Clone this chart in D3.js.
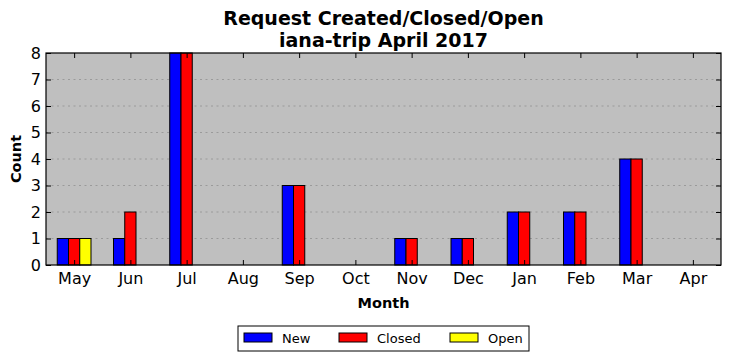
<!DOCTYPE html>
<html>
<head>
<meta charset="utf-8">
<script src="https://cdn.jsdelivr.net/npm/d3@7"></script>
<style>
  body { margin: 0; background: #fff; }
  text { font-family: "DejaVu Sans", sans-serif; }
</style>
</head>
<body>
<svg id="chart" width="731" height="361"></svg>
<script>
const months = ["May", "Jun", "Jul", "Aug", "Sep", "Oct", "Nov", "Dec", "Jan", "Feb", "Mar", "Apr"];
const newCounts = [1, 1, 8, 0, 3, 0, 1, 1, 2, 2, 4, 0];
const closedCounts = [1, 2, 8, 0, 3, 0, 1, 1, 2, 2, 4, 0];
const openCounts = [1, 0, 0, 0, 0, 0, 0, 0, 0, 0, 0, 0];
const yTicks = [0, 1, 2, 3, 4, 5, 6, 7, 8];

const series = [
  { name: "New", values: newCounts, color: "#0000ff" },
  { name: "Closed", values: closedCounts, color: "#ff0000" },
  { name: "Open", values: openCounts, color: "#ffff00" }
];

const svg = d3.select("#chart");
const plotL = 46, plotR = 721, plotT = 53, plotB = 265;
const barW = 0.2;

const x = d3.scaleLinear().domain([-0.5, months.length - 0.5]).range([plotL, plotR]);
const y = d3.scaleLinear().domain([0, 8]).range([plotB, plotT]);

// plot background
svg.append("rect")
  .attr("x", plotL).attr("y", plotT)
  .attr("width", plotR - plotL).attr("height", plotB - plotT)
  .attr("fill", "#bfbfbf");

// grid
svg.append("g").selectAll("line")
  .data(yTicks.slice(1, -1))
  .enter().append("line")
  .attr("x1", plotL).attr("x2", plotR)
  .attr("y1", d => y(d)).attr("y2", d => y(d))
  .attr("stroke", "#9a9a9a")
  .attr("stroke-width", 1)
  .attr("stroke-dasharray", "2,3.5");

// bars
series.forEach((s, si) => {
  svg.append("g").selectAll("rect")
    .data(s.values)
    .enter().append("rect")
    .attr("x", (d, i) => x(i - 0.3 + si * barW))
    .attr("y", d => y(d))
    .attr("width", x(barW) - x(0))
    .attr("height", d => y(0) - y(d))
    .attr("fill", s.color)
    .attr("stroke", "#000")
    .attr("stroke-width", 1);
});

// axes with inward ticks on all sides
const tickLen = 5;
svg.append("g")
  .attr("transform", `translate(0,${plotB})`)
  .call(d3.axisBottom(x).tickValues(d3.range(months.length)).tickFormat(i => months[i]).tickSizeInner(-tickLen).tickSizeOuter(0).tickPadding(8))
  .call(g => g.select(".domain").remove())
  .call(g => g.selectAll("text").attr("font-size", 16).attr("fill", "#000"));

svg.append("g")
  .attr("transform", `translate(0,${plotT})`)
  .call(d3.axisTop(x).tickValues(d3.range(months.length)).tickFormat("").tickSizeInner(-tickLen).tickSizeOuter(0))
  .call(g => g.select(".domain").remove());

svg.append("g")
  .attr("transform", `translate(${plotL},0)`)
  .call(d3.axisLeft(y).tickValues(yTicks).tickSizeInner(-tickLen).tickSizeOuter(0).tickPadding(5))
  .call(g => g.select(".domain").remove())
  .call(g => g.selectAll("text").attr("font-size", 16).attr("fill", "#000"));

svg.append("g")
  .attr("transform", `translate(${plotR},0)`)
  .call(d3.axisRight(y).tickValues(yTicks).tickFormat("").tickSizeInner(-tickLen).tickSizeOuter(0))
  .call(g => g.select(".domain").remove());

// frame
svg.append("rect")
  .attr("x", plotL).attr("y", plotT)
  .attr("width", plotR - plotL).attr("height", plotB - plotT)
  .attr("fill", "none").attr("stroke", "#000").attr("stroke-width", 1.2);

// titles
const cx = (plotL + plotR) / 2;
svg.append("text").attr("x", cx).attr("y", 25).attr("text-anchor", "middle")
  .attr("font-size", 19).attr("font-weight", "bold").text("Request Created/Closed/Open");
svg.append("text").attr("x", cx).attr("y", 47).attr("text-anchor", "middle")
  .attr("font-size", 19).attr("font-weight", "bold").text("iana-trip April 2017");

svg.append("text").attr("x", cx).attr("y", 308).attr("text-anchor", "middle")
  .attr("font-size", 14.5).attr("font-weight", "bold").text("Month");
svg.append("text").attr("transform", `translate(21,${(plotT + plotB) / 2}) rotate(-90)`)
  .attr("text-anchor", "middle").attr("font-size", 14.5).attr("font-weight", "bold").text("Count");

// legend
const legend = svg.append("g").attr("transform", "translate(238,326)");
legend.append("rect").attr("width", 291).attr("height", 25)
  .attr("fill", "#fff").attr("stroke", "#000").attr("stroke-width", 1);
const legendX = [6, 101, 212];
series.forEach((s, i) => {
  legend.append("rect").attr("x", legendX[i]).attr("y", 7).attr("width", 28).attr("height", 9)
    .attr("fill", s.color).attr("stroke", "#000").attr("stroke-width", 1);
  legend.append("text").attr("x", legendX[i] + 38).attr("y", 17)
    .attr("font-size", 13).text(s.name);
});
</script>
</body>
</html>
